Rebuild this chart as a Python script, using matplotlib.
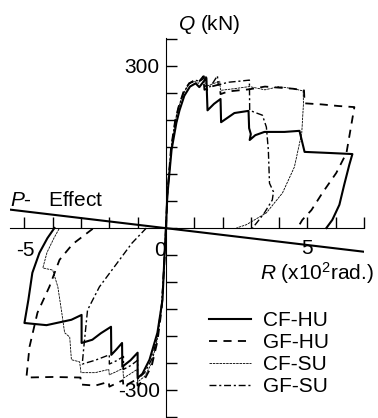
import matplotlib.pyplot as plt
import numpy as np

plt.rcParams['font.family'] = ['Liberation Sans', 'DejaVu Sans']
plt.rcParams['mathtext.fontset'] = 'custom'
plt.rcParams['mathtext.rm'] = 'Liberation Sans'
plt.rcParams['mathtext.it'] = 'Liberation Sans:italic'

# Curvas Q-R (positivo e negativo)
cfhu_pos_R = [0, 0.05, 0.2, 0.37, 0.48, 0.65, 0.85, 1.05, 1.18, 1.43, 1.47, 1.7, 1.93, 1.95, 2.42, 2.92, 2.94, 3.0, 2.96, 3.16, 3.48, 4.19, 4.72, 4.9, 5.78, 6.59, 6.48, 6.3, 6.13, 5.88, 5.67]
cfhu_pos_Q = [0, 60, 145, 195, 218, 245, 262, 268, 261, 278, 218, 230, 239, 196, 213, 217, 185, 174, 163, 172, 178, 178, 180, 141, 139, 137, 117, 80, 43, 15, 0]
cfhu_neg_R = [0, -0.05, -0.12, -0.3, -0.58, -0.83, -1.0, -1.0, -1.25, -1.54, -1.55, -1.75, -1.93, -1.94, -2.3, -2.6, -2.98, -2.98, -3.34, -4.22, -5.0, -4.86, -4.72, -4.47, -4.19, -3.94]
cfhu_neg_Q = [0, -50, -133, -194, -244, -270, -278, -231, -245, -257, -213, -225, -235, -183, -195, -207, -213, -161, -170, -180, -176, -133, -83, -46, -19, 0]

gfhu_pos_R = [0, 0.05, 0.18, 0.33, 0.45, 0.62, 0.82, 1.0, 1.15, 1.32, 1.36, 1.6, 1.9, 1.93, 2.2, 2.95, 3.5, 4.0, 4.5, 4.88, 4.9, 5.5, 6.1, 6.66, 6.38, 6.02, 5.53, 5.14, 4.82, 4.65]
gfhu_pos_Q = [0, 62, 148, 200, 225, 252, 268, 272, 270, 281, 256, 262, 266, 248, 253, 257, 262, 260, 258, 255, 231, 229, 226, 224, 139, 102, 65, 33, 15, 0]
gfhu_neg_R = [0, -0.05, -0.15, -0.3, -0.5, -0.75, -1.0, -1.02, -1.5, -1.52, -2.0, -2.02, -2.5, -3.0, -3.02, -4.0, -4.93, -4.82, -4.54, -4.12, -3.76, -3.3, -2.55]
gfhu_neg_Q = [0, -60, -150, -210, -255, -280, -292, -280, -294, -282, -294, -285, -292, -290, -277, -276, -277, -220, -157, -109, -59, -30, 0]

cfsu_pos_R = [0, 0.05, 0.18, 0.33, 0.45, 0.62, 0.82, 1.0, 1.15, 1.35, 1.4, 1.6, 1.9, 1.93, 2.4, 2.95, 3.5, 4.0, 4.5, 4.85, 4.86, 4.8, 4.54, 4.12, 3.55, 2.84, 2.49]
cfsu_pos_Q = [0, 60, 145, 198, 224, 250, 267, 272, 268, 282, 262, 266, 272, 255, 258, 262, 256, 262, 258, 254, 230, 176, 113, 65, 28, 6, 0]
cfsu_neg_R = [0, -0.05, -0.15, -0.3, -0.5, -0.75, -1.0, -1.02, -1.25, -1.5, -1.52, -1.75, -2.0, -2.02, -2.5, -3.0, -3.05, -3.34, -3.4, -3.58, -3.68, -3.82, -4.0, -4.35, -4.2, -3.95, -3.76]
cfsu_neg_Q = [0, -58, -145, -205, -250, -275, -285, -262, -270, -278, -260, -266, -272, -262, -268, -268, -248, -244, -202, -194, -157, -109, -78, -74, -45, -18, 0]

gfsu_pos_R = [0, 0.05, 0.18, 0.33, 0.45, 0.62, 0.82, 1.0, 1.2, 1.42, 1.45, 1.65, 1.82, 1.85, 2.2, 2.6, 2.95, 2.96, 3.15, 3.41, 3.55, 3.62, 3.66, 3.8, 3.76, 3.48, 3.23, 3.06]
gfsu_pos_Q = [0, 60, 145, 198, 224, 250, 268, 274, 272, 280, 255, 268, 282, 265, 270, 272, 274, 218, 214, 209, 187, 144, 83, 67, 52, 28, 11, 0]
gfsu_neg_R = [0, -0.05, -0.15, -0.3, -0.5, -0.75, -1.0, -1.0, -1.25, -1.5, -1.5, -1.75, -2.0, -2.0, -2.5, -2.95, -2.95, -2.9, -2.77, -2.35, -1.64, -1.2, -0.69]
gfsu_neg_Q = [0, -55, -140, -200, -243, -268, -280, -245, -255, -262, -238, -246, -252, -235, -245, -252, -248, -220, -152, -109, -59, -28, 0]

# Linha do efeito P-delta
pdelta_R = [-5.5, 7.0]
pdelta_Q = [34, -44]

series = [
    ('CF-HU', cfhu_pos_R, cfhu_pos_Q, cfhu_neg_R, cfhu_neg_Q, dict(ls='-', lw=1.5)),
    ('GF-HU', gfhu_pos_R, gfhu_pos_Q, gfhu_neg_R, gfhu_neg_Q, dict(ls=(0, (4.5, 3.5)), lw=1.3)),
    ('CF-SU', cfsu_pos_R, cfsu_pos_Q, cfsu_neg_R, cfsu_neg_Q, dict(ls=(0, (3, 1)), lw=0.6)),
    ('GF-SU', gfsu_pos_R, gfsu_pos_Q, gfsu_neg_R, gfsu_neg_Q, dict(ls=(0, (5, 2, 1.5, 2)), lw=1.0)),
]

fig = plt.figure(figsize=(3.78, 4.18), dpi=100)
ax = fig.add_axes([10 / 378, 0, 354 / 378, 380 / 418])

for nome, rp, qp, rn, qn, estilo in series:
    ax.plot(rp, qp, color='black', label=nome, **estilo)
    ax.plot(rn, qn, color='black', **estilo)

ax.plot(pdelta_R, pdelta_Q, color='black', lw=1.5)

ax.set_xlim(-5.51, 6.98)
ax.set_ylim(-352, 352)
ax.spines['left'].set_position(('data', 0))
ax.spines['bottom'].set_position(('data', 0))
ax.spines['top'].set_visible(False)
ax.spines['right'].set_visible(False)
ax.set_xticks(np.arange(-5, 8, 1))
ax.set_yticks(np.arange(-350, 351, 50))
ax.set_xticklabels([])
ax.set_yticklabels([])
ax.tick_params(direction='in', length=8, width=1)
ax.patch.set_visible(False)

fs = 15
ax.text(-0.22, 298, '300', ha='right', va='center', fontsize=fs)
ax.text(-0.22, -302, '-300', ha='right', va='center', fontsize=fs)
ax.text(-4.95, -42, '-5', ha='center', va='center', fontsize=fs)
ax.text(-0.2, -42, '0', ha='center', va='center', fontsize=fs)
ax.text(5, -38, '5', ha='center', va='center', fontsize=fs)
fig.text(178 / 378, 1 - 25 / 418, '$Q$ (kN)', ha='left', va='center', fontsize=fs)
fig.text(260 / 378, 1 - 273 / 418, '$R$ (x10$^2$rad.)', ha='left', va='center', fontsize=fs)
fig.text(10 / 378, 1 - 200 / 418, '$P$-   Effect', ha='left', va='center', fontsize=fs)

ax.legend(loc='upper left', bbox_to_anchor=(209 / 378, 1 - 311 / 418), bbox_transform=fig.transFigure,
          frameon=False, fontsize=fs, handlelength=2.0, handletextpad=0.6, labelspacing=0.15,
          borderpad=0, borderaxespad=0)

fig.savefig('out.png', dpi=100)
